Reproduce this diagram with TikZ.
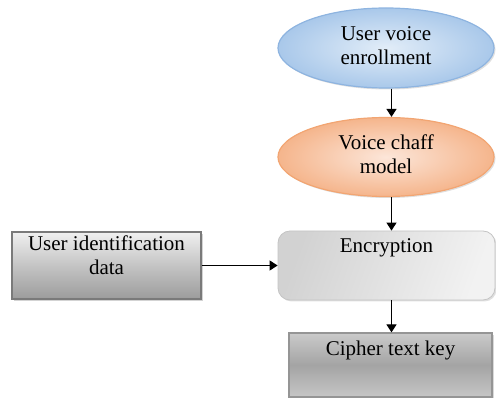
\documentclass[tikz,border=0pt]{standalone}
\usepackage{fontspec}
\setmainfont{Liberation Serif}
\usetikzlibrary{shapes.geometric,arrows.meta,shadows}
\definecolor{blueedge}{HTML}{8EB4E0}
\definecolor{bluein}{HTML}{E2EDF8}
\definecolor{blueout}{HTML}{A9C8EA}
\definecolor{peachedge}{HTML}{F2A572}
\definecolor{peachin}{HTML}{FCE6D9}
\definecolor{peachout}{HTML}{F5B58C}
\definecolor{grayedge}{HTML}{7A7A7A}
\definecolor{lightedge}{HTML}{C4C4C4}
\definecolor{encleft}{HTML}{D2D2D2}
\definecolor{encright}{HTML}{F2F2F2}
\definecolor{uidtop}{HTML}{F0F0F0}
\definecolor{uidmid}{HTML}{C4C4C4}
\definecolor{uidbot}{HTML}{9C9C9C}
\definecolor{ciphtop}{HTML}{CACACA}
\definecolor{ciphmid}{HTML}{A4A4A4}
\definecolor{ciphbot}{HTML}{C6C6C6}
\tikzset{
  ellblue/.style={ellipse, draw=blueedge, line width=1.2pt, inner color=bluein, outer color=blueout,
    minimum width=216pt, minimum height=80pt, inner sep=0pt,
    drop shadow={shadow xshift=1.5pt, shadow yshift=-1.5pt, opacity=0.25}},
  ellpeach/.style={ellipse, draw=peachedge, line width=1.2pt, inner color=peachin, outer color=peachout,
    minimum width=216pt, minimum height=79pt, inner sep=0pt,
    drop shadow={shadow xshift=1.5pt, shadow yshift=-1.5pt, opacity=0.25}},
  encbox/.style={rectangle, rounded corners=12pt, draw=lightedge, line width=0.8pt,
    shading=axis, left color=encleft, right color=encright, shading angle=70,
    minimum width=217pt, minimum height=69pt, inner sep=0pt,
    drop shadow={shadow xshift=1.5pt, shadow yshift=-1.5pt, opacity=0.25}},
  uidbox/.style={rectangle, draw=grayedge, line width=1.2pt,
    top color=uidtop, bottom color=uidbot, middle color=uidmid,
    inner sep=0pt, drop shadow={shadow xshift=2pt, shadow yshift=-2pt, opacity=0.35}},
  ciphbox/.style={rectangle, draw=grayedge!80, line width=1.2pt,
    top color=ciphtop, bottom color=ciphbot, middle color=ciphmid,
    inner sep=0pt, drop shadow={shadow xshift=2pt, shadow yshift=-2pt, opacity=0.3}},
  txt/.style={align=center, inner sep=0pt, font=\fontsize{21}{24}\selectfont},
  arr/.style={-{Triangle[length=8pt,width=10pt]}, line width=1.2pt, black}
}
\begin{document}
\begin{tikzpicture}[x=1pt,y=-1pt]
\useasboundingbox (0,0) rectangle (496,398);
\node[ellblue] (ell1) at (386,48) {};
\node[txt] (ell1t) at (386,46) {User voice\\enrollment};
\node[ellpeach] (ell2) at (386,157) {};
\node[txt] (ell2t) at (386,154) {Voice chaff\\model};
\node[encbox] (enc) at (386.5,265.5) {};
\node[txt, anchor=north] (enct) at (386.5,238) {Encryption};
\node[uidbox, minimum width=189pt, minimum height=67pt] (uid) at (106.5,265.5) {};
\node[txt] (uidt) at (106.5,255) {User identification\\data};
\node[ciphbox, minimum width=203pt, minimum height=64pt] (ciph) at (390.5,365) {};
\node[txt, anchor=north] (ciphtt) at (390.5,341) {Cipher text key};
\coordinate (colx) at (391.5,0);
\draw[arr] (ell1.south -| colx) -- (ell2.north -| colx);
\draw[arr] (ell2.south -| colx) -- (enc.north -| colx);
\draw[arr] (enc.south -| colx) -- (ciph.north -| colx);
\draw[arr] (uid.east) -- (enc.west);
\end{tikzpicture}
\end{document}
